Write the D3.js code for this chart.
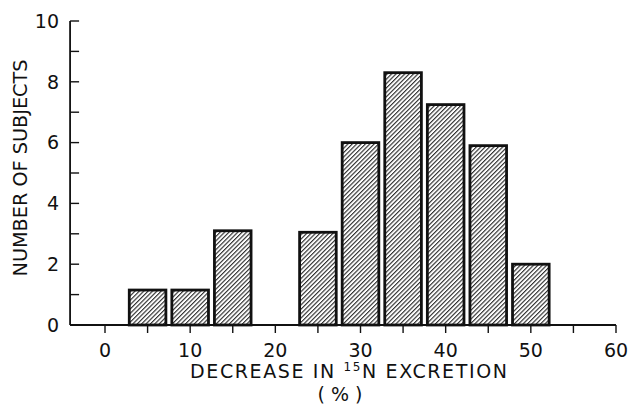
<!DOCTYPE html>
<html>
<head>
<meta charset="utf-8">
<script src="https://cdn.jsdelivr.net/npm/d3@7"></script>
<style>
  body { margin: 0; background: #fff; }
  text { font-family: "DejaVu Sans", "Liberation Sans", sans-serif; fill: #111; }
</style>
</head>
<body>
<svg id="chart" width="631" height="409"></svg>
<script>
// histogram data
let binCenters = [5, 10, 15, 25, 30, 35, 40, 45, 50];
let counts = [1.15, 1.15, 3.1, 3.05, 6.0, 8.3, 7.25, 5.9, 2.0];
let xTickLabels = [0, 10, 20, 30, 40, 50, 60];
let xMinorTicks = [5, 15, 25, 35, 45, 55];
let yTickLabels = [0, 2, 4, 6, 8, 10];
let yMinorTicks = [1, 3, 5, 7, 9];
let binWidth = 4.3;

let svg = d3.select("#chart");

let x = d3.scaleLinear().domain([0, 60]).range([105, 616]);
let y = d3.scaleLinear().domain([0, 10]).range([325, 21]);
let x0 = x(-4.1);

// hatch pattern
let defs = svg.append("defs");
defs.append("pattern")
    .attr("id", "hatch")
    .attr("patternUnits", "userSpaceOnUse")
    .attr("width", 3.1)
    .attr("height", 3.1)
    .attr("patternTransform", "rotate(45)")
  .append("line")
    .attr("x1", 0.6).attr("y1", 0)
    .attr("x2", 0.6).attr("y2", 3.1)
    .attr("stroke", "#111")
    .attr("stroke-width", 1.0);

// bars
svg.selectAll("rect.bar")
    .data(binCenters)
    .enter().append("rect")
    .attr("class", "bar")
    .attr("x", function(d) { return x(d - binWidth / 2); })
    .attr("y", function(d, i) { return y(counts[i]); })
    .attr("width", function(d) { return x(d + binWidth / 2) - x(d - binWidth / 2); })
    .attr("height", function(d, i) { return y(0) - y(counts[i]); })
    .attr("fill", "url(#hatch)")
    .attr("stroke", "#111")
    .attr("stroke-width", 2.8);

// axes lines
svg.append("line")
    .attr("x1", x0).attr("x2", x(60))
    .attr("y1", y(0)).attr("y2", y(0))
    .attr("stroke", "#111").attr("stroke-width", 1.8);
svg.append("line")
    .attr("x1", x0).attr("x2", x0)
    .attr("y1", y(0)).attr("y2", y(10))
    .attr("stroke", "#111").attr("stroke-width", 1.8);

// x ticks (down)
svg.selectAll("line.xt")
    .data(xTickLabels.concat(xMinorTicks))
    .enter().append("line")
    .attr("x1", function(d) { return x(d); })
    .attr("x2", function(d) { return x(d); })
    .attr("y1", y(0)).attr("y2", y(0) + 8)
    .attr("stroke", "#111").attr("stroke-width", 1.4);

svg.selectAll("text.xl")
    .data(xTickLabels)
    .enter().append("text")
    .attr("x", function(d) { return x(d); })
    .attr("y", 357)
    .attr("text-anchor", "middle")
    .attr("font-size", 19)
    .text(function(d) { return d; });

// y ticks (pointing inward)
svg.selectAll("line.yt")
    .data(yTickLabels.concat(yMinorTicks))
    .enter().append("line")
    .attr("x1", x0).attr("x2", x0 + 9)
    .attr("y1", function(d) { return y(d); })
    .attr("y2", function(d) { return y(d); })
    .attr("stroke", "#111").attr("stroke-width", 1.4);

svg.selectAll("text.yl")
    .data(yTickLabels)
    .enter().append("text")
    .attr("x", 59)
    .attr("y", function(d) { return y(d); })
    .attr("dy", "0.36em")
    .attr("text-anchor", "end")
    .attr("font-size", 19)
    .text(function(d) { return d; });

// axis titles
let xt = svg.append("text")
    .attr("x", 190)
    .attr("y", 378)
    .attr("font-size", 19)
    .attr("textLength", 317)
    .attr("lengthAdjust", "spacing");
xt.append("tspan").text("DECREASE IN ");
xt.append("tspan").attr("font-size", 12).attr("dy", -7).text("15");
xt.append("tspan").attr("dy", 7).text("N EXCRETION");

svg.append("text")
    .attr("x", 340)
    .attr("y", 401)
    .attr("text-anchor", "middle")
    .attr("font-size", 19)
    .text("( % )");

svg.append("text")
    .attr("transform", "translate(27,168) rotate(-90)")
    .attr("text-anchor", "middle")
    .attr("font-size", 19)
    .attr("textLength", 217)
    .attr("lengthAdjust", "spacingAndGlyphs")
    .text("NUMBER OF SUBJECTS");
</script>
</body>
</html>
